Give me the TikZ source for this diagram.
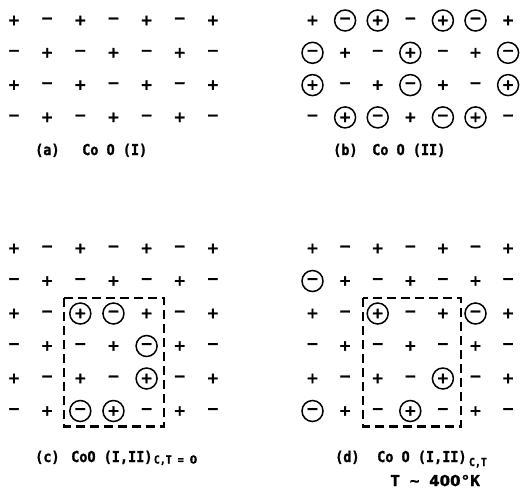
\documentclass[tikz,border=0pt]{standalone}
\usepackage{fontspec}
\newfontfamily\symfam{DejaVu Sans Bold}[FakeBold=1.5]
\newfontfamily\labfam{DejaVu Sans Mono Bold}[FakeStretch=0.9,FakeBold=1.2]
\newfontfamily\labwide{DejaVu Sans Mono Bold}[FakeStretch=1.08,FakeBold=1.2]
\newfontfamily\digfam{DejaVu Sans Bold}[FakeBold=1.2]
\newcommand\gridrow[5]{%
  \foreach \s [count=\c] in {#5} {\node[\s] (#1-\c) at ({#2+(\c-1)*#3}, #4) {\symtxt};}}
\begin{document}
\begin{tikzpicture}[x=1pt,y=-1pt,
  symbase/.style={inner sep=0pt, font=\symfam\fontsize{15}{15}\selectfont},
  symP/.style={symbase, /utils/exec={\def\symtxt{+}}},
  symM/.style={symbase, /utils/exec={\def\symtxt{−}}},
  cirP/.style={symP, circle, draw, line width=1.5pt, minimum size=21pt},
  cirM/.style={symM, circle, draw, line width=1.5pt, minimum size=21pt},
  lab/.style={inner sep=0pt, anchor=base west, font=\labfam\fontsize{15}{15}\selectfont},
  sublab/.style={lab, font=\labfam\fontsize{11}{11}\selectfont},
  widelab/.style={lab, font=\labwide\fontsize{15}{15}\selectfont},
  dbox/.style={line width=2.2pt, dash pattern=on 9pt off 5pt},
]
\useasboundingbox (0,0) rectangle (521,491);
% (a)
\gridrow{a1}{14}{33.15}{20.5}{symP,symM,symP,symM,symP,symM,symP}
\gridrow{a2}{14}{33.15}{52.8}{symM,symP,symM,symP,symM,symP,symM}
\gridrow{a3}{14}{33.15}{85.1}{symP,symM,symP,symM,symP,symM,symP}
\gridrow{a4}{14}{33.15}{117.4}{symM,symP,symM,symP,symM,symP,symM}
% (b)
\gridrow{b1}{312.5}{32.6}{20.5}{symP,cirM,cirP,symM,cirP,cirM,symP}
\gridrow{b2}{312.5}{32.6}{52.8}{cirM,symP,symM,cirP,symM,symP,cirM}
\gridrow{b3}{312.5}{32.6}{85.1}{cirP,symM,symP,cirM,symP,symM,cirP}
\gridrow{b4}{312.5}{32.6}{117.4}{symM,cirP,cirM,symP,cirM,cirP,symM}
% (c)
\gridrow{c1}{14}{33.15}{248.5}{symP,symM,symP,symM,symP,symM,symP}
\gridrow{c2}{14}{33.15}{281}{symM,symP,symM,symP,symM,symP,symM}
\gridrow{c3}{14}{33.15}{313.5}{symP,symM,cirP,cirM,symP,symM,symP}
\gridrow{c4}{14}{33.15}{346}{symM,symP,symM,symP,cirM,symP,symM}
\gridrow{c5}{14}{33.15}{378.5}{symP,symM,symP,symM,cirP,symM,symP}
\gridrow{c6}{14}{33.15}{411}{symM,symP,cirM,cirP,symM,symP,symM}
% (d)
\gridrow{d1}{312.5}{32.6}{248.5}{symP,symM,symP,symM,symP,symM,symP}
\gridrow{d2}{312.5}{32.6}{281}{cirM,symP,symM,symP,symM,symP,symM}
\gridrow{d3}{312.5}{32.6}{313.5}{symP,symM,cirP,symM,symP,cirM,symP}
\gridrow{d4}{312.5}{32.6}{346}{symM,symP,symM,symP,symM,symP,symM}
\gridrow{d5}{312.5}{32.6}{378.5}{symP,symM,symP,symM,cirP,symM,symP}
\gridrow{d6}{312.5}{32.6}{411}{cirM,symP,symM,cirP,symM,symP,symM}
% dashed boxes
\coordinate (cbox1) at (64,298);
\coordinate (cbox2) at (164,426.5);
\coordinate (dbox1) at (363,298);
\coordinate (dbox2) at (461,426.5);
\draw[dbox] (cbox1) rectangle (cbox2);
\draw[dbox] (dbox1) rectangle (dbox2);
% labels
\node[lab] (la) at (35,155) {(a)};
\node[lab] (lat) at (82,155) {Co O (I)};
\node[lab] (lb) at (333,155) {(b)};
\node[lab] (lbt) at (372,155) {Co O (II)};
\node[lab] (lc) at (35,462) {(c)};
\node[lab] (lct) at (71,462) {CoO (I,II)};
\node[sublab, anchor=base west] (lcs) at ([xshift=1pt,yshift=-1.5pt]lct.base east) {C,T = {\digfam 0}};
\node[lab] (ld) at (335,462) {(d)};
\node[lab] (ldt) at (377,462) {Co O (I,II)};
\node[sublab, anchor=base west] (lds) at ([xshift=2pt,yshift=-4pt]ldt.base east) {C,T};
\node[widelab] (ldT) at (390,486) {T {\char`\~} {\digfam 400}°K};
\end{tikzpicture}
\end{document}
